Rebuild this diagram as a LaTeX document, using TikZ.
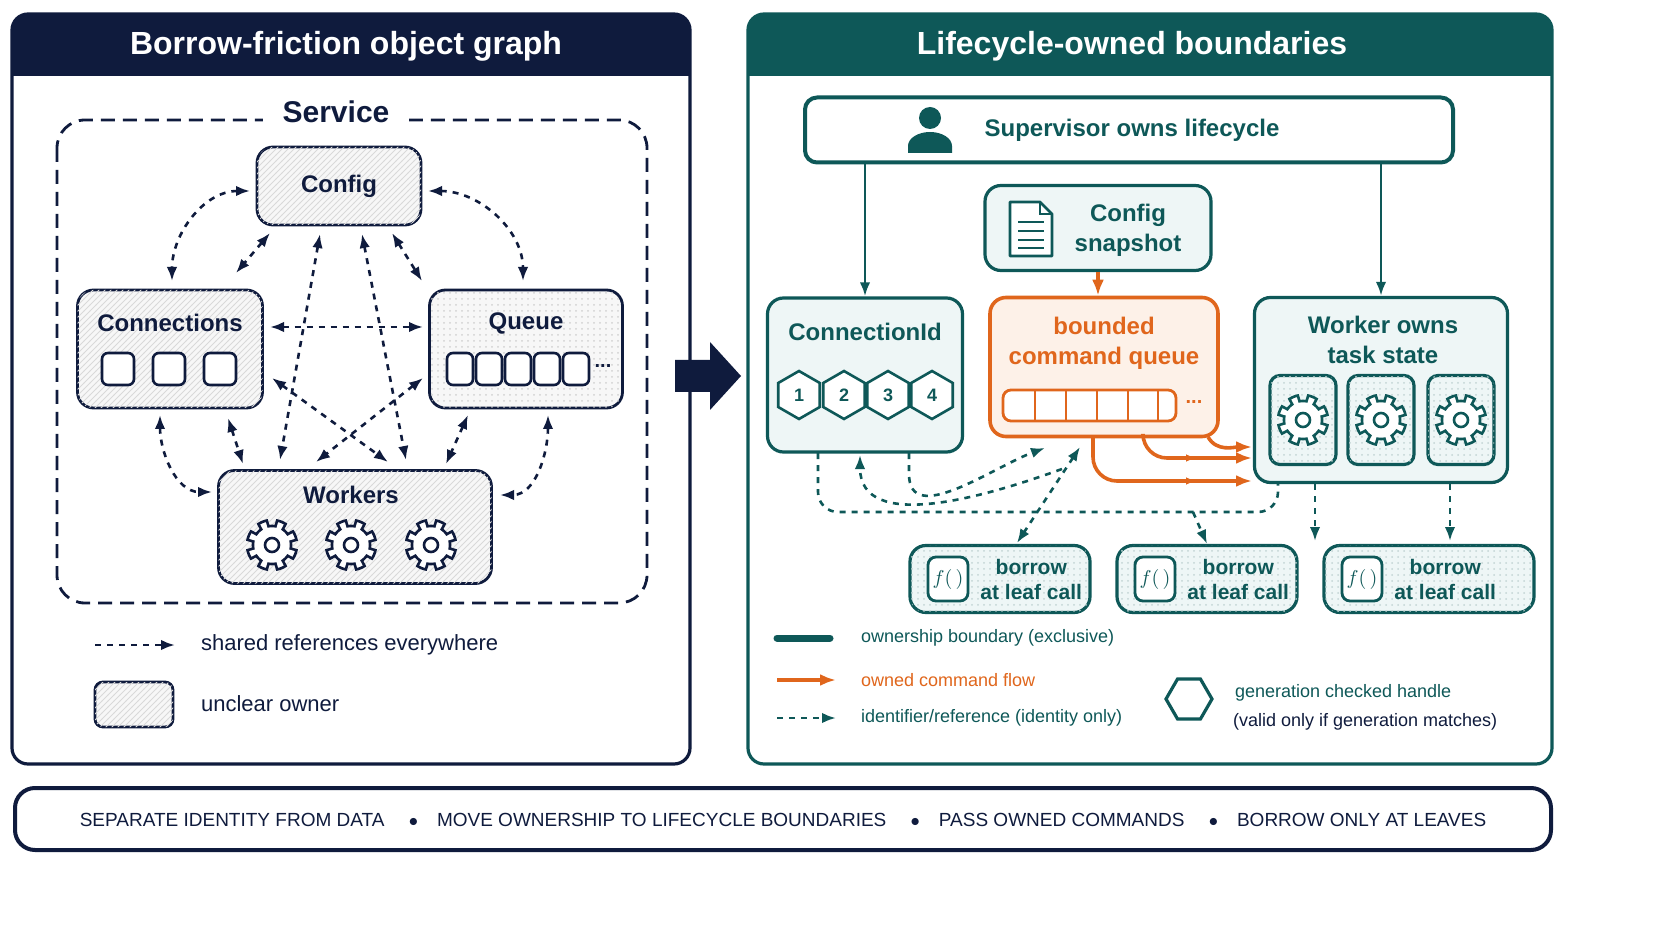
\documentclass[tikz,border=0pt]{standalone}
\usepackage{fontspec}
\setmainfont{Liberation Sans}
\usetikzlibrary{positioning, patterns, shapes.geometric, arrows.meta}

\definecolor{navy}{HTML}{0F1B3D}
\definecolor{teal}{HTML}{0E5858}
\definecolor{orng}{HTML}{E0661C}
\definecolor{tealfill}{HTML}{EEF6F6}
\definecolor{orngfill}{HTML}{FDF1E8}

\tikzset{
  box/.style={draw=navy, line width=1.4pt, rounded corners=8pt, fill=gray!6},
  hatched/.style={box, postaction={pattern=north east lines, pattern color=gray!30}},
  dotted box/.style={box, postaction={pattern=dots, pattern color=gray!35}},
  tbox/.style={draw=teal, line width=1.6pt, rounded corners=8pt, fill=tealfill},
  tdots/.style={tbox, postaction={pattern=dots, pattern color=teal!25}},
  lbl/.style={font=\fontsize{12}{14}\selectfont\bfseries, text=navy},
  tlbl/.style={font=\fontsize{12}{15}\selectfont\bfseries, text=teal, align=center},
  legend/.style={font=\fontsize{9}{11}\selectfont, anchor=west},
  refarrow/.style={dashed, line width=1.3pt, navy, {Latex[length=7pt]}-{Latex[length=7pt]}},
  idarrow/.style={dashed, line width=1.3pt, teal, -{Latex[length=7pt]}},
  ownarrow/.style={line width=1.4pt, teal, -{Latex[length=7pt]}},
  flow/.style={line width=1.8pt, orng, -{Latex[length=8pt]}},
  slot/.style={draw=navy, line width=1.3pt, rounded corners=3pt, fill=white},
  gear/.pic={
    \draw[line width=1.3pt, fill=white] plot[samples=241, domain=0:360]
      ({\x}:{(abs(mod(\x,45)-22.5)<11) ? 25 : 19}) -- cycle;
    \draw[line width=1.3pt] (0,0) circle (7);
  }
}

\begin{document}
\begin{tikzpicture}[x=0.5pt, y=-0.5pt]
  \fill[white] (0,0) rectangle (1672,941);

  % left panel
  \draw[navy, line width=1.6pt, rounded corners=8pt] (12,14) rectangle (690,764);
  \fill[navy, rounded corners=8pt] (12,14) rectangle (690,76);
  \fill[navy] (12,50) rectangle (690,76);
  \node[text=white, font=\fontsize{16}{19}\selectfont\bfseries] (ltitle) at (346,46) {Borrow-friction object graph};

  \draw[navy, line width=1.4pt, rounded corners=14pt, dash pattern=on 7pt off 4pt] (57,120) rectangle (647,603);
  \node[fill=white, font=\fontsize{15}{18}\selectfont\bfseries, text=navy, inner xsep=10pt] (svc) at (336,112) {Service};

  \node[hatched, minimum width=82pt, minimum height=39pt] (config) at (339,186) {};
  \node[lbl] at (config) {Config};
  \node[hatched, minimum width=92.5pt, minimum height=59pt] (conns) at (170,349) {};
  \node[lbl] (connslbl) at (170,323) {Connections};
  \foreach \x in {118,169,220}
    \draw[slot] (\x-16,353) rectangle (\x+16,385);
  \node[dotted box, minimum width=96.5pt, minimum height=59pt] (queue) at (526,349) {};
  \node[lbl] (queuelbl) at (526,323) {Queue};
  \foreach \x in {460,489,518,547,576}
    \draw[slot] (\x-13,353) rectangle (\x+13,385);
  \node[lbl, font=\bfseries] at (603,366) {...};
  \node[hatched, minimum width=136.5pt, minimum height=56.5pt] (workers) at (355,527) {};
  \node[lbl] (workerslbl) at (351,495) {Workers};
  \foreach \x in {272,351,431}
    \pic[navy] at (\x,545) {gear};

  % shared references
  \draw[refarrow] (250,191) to[out=180,in=90] (172,281);
  \draw[refarrow] (270,233) -- (236,273);
  \draw[refarrow] (428,191) to[out=0,in=90] (523,281);
  \draw[refarrow] (392,233) -- (422,281);
  \draw[refarrow] (270,327) -- (423,327);
  \draw[refarrow] (320,234) -- (280,460);
  \draw[refarrow] (362,234) -- (406,460);
  \draw[refarrow] (272,378) -- (388,462);
  \draw[refarrow] (423,378) -- (316,462);
  \draw[refarrow] (160,415) to[out=-90,in=180] (212,492);
  \draw[refarrow] (228,418) -- (243,464);
  \draw[refarrow] (468,415) -- (446,464);
  \draw[refarrow] (548,415) to[out=-90,in=0] (500,495);

  % left legend
  \coordinate (la) at (95,645);
  \coordinate (lb) at (175,645);
  \draw[dashed, line width=1.3pt, navy, -{Latex[length=7pt]}] (la) -- (lb);
  \node[legend, text=navy, font=\fontsize{11}{13}\selectfont] at (194,645) {shared references everywhere};
  \draw[hatched, rounded corners=4pt] (95,682) rectangle (173,727);
  \node[legend, text=navy, font=\fontsize{11}{13}\selectfont] at (194,704) {unclear owner};

  % big arrow
  \fill[navy] (675,360) -- (710,360) -- (710,342) -- (741,376) -- (710,410) -- (710,392) -- (675,392) -- cycle;

  % right panel
  \draw[teal, line width=1.6pt, rounded corners=8pt] (748,14) rectangle (1552,764);
  \fill[teal, rounded corners=8pt] (748,14) rectangle (1552,76);
  \fill[teal] (748,50) rectangle (1552,76);
  \node[text=white, font=\fontsize{16}{19}\selectfont\bfseries] (rtitle) at (1132,46) {Lifecycle-owned boundaries};

  \node[tbox, fill=white, line width=2pt, rounded corners=6pt, minimum width=324pt, minimum height=32.5pt] (sup) at (1129,130) {};
  \fill[teal] (930,118) circle (11);
  \fill[teal] (908,153) -- (908,146) arc[start angle=180, end angle=0, x radius=22, y radius=-14] -- (952,153) -- cycle;
  \node[tlbl] at (1132,130) {Supervisor owns lifecycle};

  \node[tbox, minimum width=113pt, minimum height=42.5pt] (snap) at (1098,228) {};
  \draw[teal, line width=1.4pt, fill=white, line join=round] (1010,202) -- (1040,202) -- (1052,214) -- (1052,256) -- (1010,256) -- cycle;
  \draw[teal, line width=1.2pt] (1040,202) -- (1040,214) -- (1052,214);
  \foreach \y in {222,231,240,248}
    \draw[teal, line width=1.2pt] (1018,\y) -- (1044,\y);
  \node[tlbl] at (1128,230) {Config\\snapshot};

  \node[tbox, minimum width=97.5pt, minimum height=77pt] (connid) at (865,375) {};
  \node[tlbl] at (865,332) {ConnectionId};
  \foreach \n/\x in {1/799,2/844,3/888,4/932}
    \node[draw=teal, line width=1.3pt, fill=white, regular polygon, regular polygon sides=6, shape border rotate=90, minimum size=24pt, inner sep=0pt, font=\small\bfseries, text=teal] (h\n) at (\x,395) {\n};

  \node[draw=orng, line width=1.8pt, rounded corners=8pt, fill=orngfill, minimum width=114pt, minimum height=69.5pt] (cmdq) at (1104,367) {};
  \node[tlbl, text=orng] at (1104,343) {bounded\\command queue};
  \draw[orng, line width=1.4pt, rounded corners=4pt, fill=white] (1003,390) rectangle (1176,421);
  \foreach \x in {1035,1066,1097,1128,1158}
    \draw[orng, line width=1.4pt] (\x,390) -- (\x,421);
  \node[text=orng, font=\bfseries] at (1194,402) {...};

  \node[tbox, minimum width=126.5pt, minimum height=92.5pt] (worker) at (1381,390) {};
  \node[tlbl] at (1383,340) {Worker owns\\task state};
  \foreach \x/\n in {1303/1,1381/2,1461/3} {
    \node[tdots, rounded corners=5pt, minimum width=33pt, minimum height=44.5pt] (ws\n) at (\x,420) {};
    \pic[teal] at (\x,420) {gear};
  }

  \foreach \n/\x/\w in {1/1000/90,2/1207/90,3/1429/105} {
    \node[tdots, minimum width=\w pt, minimum height=33.5pt] (leaf\n) at (\x,579) {};
    \node[draw=teal, line width=1.4pt, fill=white, rounded corners=4pt, minimum width=20pt, minimum height=22pt, inner sep=0pt, font=\itshape, text=teal] (fn\n) at (\x-\w+38,579) {$f(\,)$};
    \node[tlbl, font=\fontsize{10.5}{12.5}\selectfont\bfseries, right=2pt of fn\n] {borrow\\at leaf call};
  }

  % ownership
  \draw[ownarrow] (sup.south -| connid.north) -- (connid.north);
  \draw[ownarrow] (sup.south -| worker.north) -- (worker.north);
  \draw[flow] (snap.south) -- (snap.south |- cmdq.north);

  % owned command flow
  \draw[flow] (1208,437) to[out=-60,in=180] (1252,447);
  \draw[flow, rounded corners=12pt] (1143,437) -- (1143,458) -- (1252,458);
  \draw[flow, rounded corners=12pt] (1093,437) -- (1093,481) -- (1252,481);
  \draw[orng, -{Latex[length=5pt]}] (1190,458) -- (1196,458);
  \draw[orng, -{Latex[length=5pt]}] (1190,481) -- (1196,481);

  % identifiers
  \draw[dashed, line width=1.3pt, teal, rounded corners=10pt] (818,453) -- (818,512) -- (1278,512) -- (1278,483);
  \coordinate (tap) at (1193,512);
  \draw[idarrow] (tap) -- (leaf2.north);
  \draw[idarrow] (909,453) -- (909,474) to[out=-90,in=200] (1045,448);
  \draw[idarrow] (1062,469) to[out=200,in=-90] (860,455);
  \draw[refarrow, teal] (1080,447) -- (1017,543);
  \draw[idarrow] (1315,484) -- (1315,541);
  \draw[idarrow] (1450,484) -- (1450,541);

  % right legend
  \draw[teal, line width=3.5pt, line cap=round] (777,638) -- (830,638);
  \node[legend, text=teal] at (854,638) {ownership boundary (exclusive)};
  \draw[flow] (777,680) -- (836,680);
  \node[legend, text=orng] at (854,680) {owned command flow};
  \draw[idarrow] (777,718) -- (836,718);
  \node[legend, text=teal] at (854,718) {identifier/reference (identity only)};
  \node[draw=teal, line width=1.6pt, regular polygon, regular polygon sides=6, minimum size=23pt] (hexkey) at (1189,699) {};
  \node[legend, text=teal] at (1228,693) {generation checked handle};
  \node[legend, text=navy] at (1226,722) {(valid only if generation matches)};

  % banner
  \draw[navy, line width=2pt, rounded corners=10pt] (15,788) rectangle (1551,850);
  \node[text=navy, font=\fontsize{9.5}{11}\selectfont] (banner) at (783,820)
    {SEPARATE IDENTITY FROM DATA \quad$\bullet$\quad MOVE OWNERSHIP TO LIFECYCLE BOUNDARIES \quad$\bullet$\quad PASS OWNED COMMANDS \quad$\bullet$\quad BORROW ONLY AT LEAVES};

  \pgfresetboundingbox
  \useasboundingbox (0,0) rectangle (1672,941);
\end{tikzpicture}
\end{document}
